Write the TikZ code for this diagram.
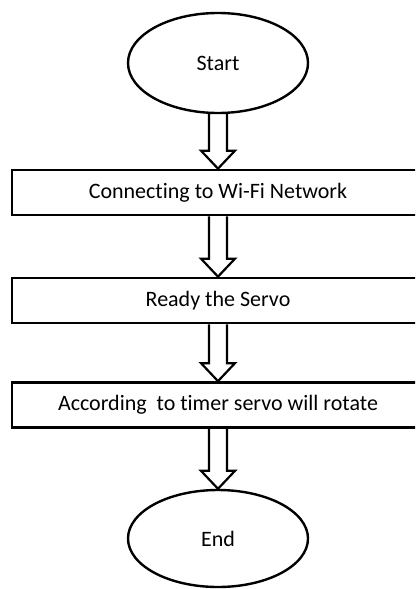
\documentclass[tikz,border=0pt]{standalone}
\usepackage{fontspec}
\setmainfont{Carlito}[Ligatures=NoCommon]
\usetikzlibrary{calc,backgrounds,shapes.geometric}
\tikzset{
  term/.style={ellipse, draw=black, line width=2.4pt, fill=white, minimum width=180pt, minimum height=100pt, inner sep=0pt, font=\fontsize{22}{26}\selectfont},
  procbox/.style={rectangle, draw=black, line width=2.7pt, fill=white, minimum width=412pt, minimum height=45pt, inner sep=0pt, font=\fontsize{22}{26}\selectfont},
  hollow/.style={draw=black, line width=2.2pt, fill=white, line join=miter}
}
\newcommand{\hollowarrow}[2]{%
  \draw[hollow] ($(#1)+(-9,0)$) -- ($(#2)+(-9,-18)$) -- ($(#2)+(-17,-18)$) -- (#2) -- ($(#2)+(17,-18)$) -- ($(#2)+(9,-18)$) -- ($(#1)+(9,0)$);%
}
\begin{document}
\begin{tikzpicture}[x=1pt,y=-1pt]
\useasboundingbox (0,0) rectangle (415,589);
\clip (0,0) rectangle (415,589);
\node[term] (start) at (218,63) {Start};
\node[procbox] (b1) at (218,192.5) {Connecting to Wi-Fi Network};
\node[procbox] (b2) at (218,300.5) {Ready the Servo};
\node[procbox] (b3) at (218,405) {According\ \ to timer servo will rotate};
\node[term, minimum height=97pt] (end) at (218,538.5) {End};
\begin{pgfonlayer}{background}
\hollowarrow{start.south}{b1.north}
\hollowarrow{b1.south}{b2.north}
\hollowarrow{b2.south}{b3.north}
\hollowarrow{b3.south}{end.north}
\end{pgfonlayer}
\end{tikzpicture}
\end{document}
